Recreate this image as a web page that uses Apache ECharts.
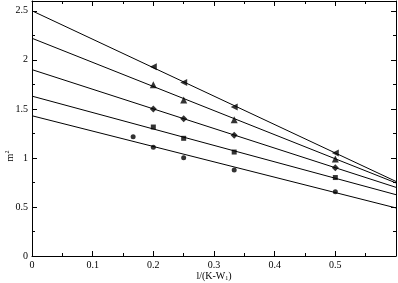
<!DOCTYPE html>
<html>
<head>
<meta charset="utf-8">
<script src="https://cdn.jsdelivr.net/npm/echarts@6/dist/echarts.min.js"></script>
<style>
  html, body { margin: 0; padding: 0; background: #fff; }
  #chart { width: 398px; height: 283px; }
</style>
</head>
<body>
<div id="chart"></div>
<script>
// measured points, x = 1/(K-W1)
const ptsLeftTri = [[0.2, 1.93], [0.25, 1.77], [0.3333, 1.52], [0.5, 1.05]];
const ptsUpTri = [[0.2, 1.745], [0.25, 1.59], [0.3333, 1.39], [0.5, 0.99]];
const ptsDiamond = [[0.2, 1.50], [0.25, 1.40], [0.3333, 1.23], [0.5, 0.90]];
const ptsSquare = [[0.2, 1.315], [0.25, 1.20], [0.3333, 1.06], [0.5, 0.80]];
const ptsCircle = [[0.1667, 1.217], [0.2, 1.11], [0.25, 1.003], [0.3333, 0.877], [0.5, 0.656]];

// fitted lines, value at x=0 and at x=0.6
const fitLeftTri = [[0, 2.50], [0.6, 0.76]];
const fitUpTri = [[0, 2.22], [0.6, 0.745]];
const fitDiamond = [[0, 1.90], [0.6, 0.70]];
const fitSquare = [[0, 1.63], [0.6, 0.625]];
const fitCircle = [[0, 1.43], [0.6, 0.49]];

const font = "Liberation Serif";

const chart = echarts.init(document.getElementById("chart"));

const lineSeries = (data) => ({
  type: "line",
  data: data,
  symbol: "none",
  silent: true,
  lineStyle: { color: "#000", width: 1 },
});

const pointSeries = (data, symbol, size, rotate) => ({
  type: "scatter",
  data: data,
  symbol: symbol,
  symbolSize: size,
  symbolRotate: rotate || 0,
  itemStyle: { color: "#000" },
});

const tickStyle = {
  axisLine: { show: true, onZero: false, lineStyle: { color: "#000", width: 1 } },
  axisTick: { show: true, inside: true, length: 5, lineStyle: { color: "#000" } },
  minorTick: { show: true, splitNumber: 2, length: 3, lineStyle: { color: "#000" } },
  splitLine: { show: false },
  minorSplitLine: { show: false },
};

const option = {
  animation: false,
  grid: { left: 32, right: 2, top: 1, bottom: 27, containLabel: false, outerBoundsMode: "none" },
  xAxis: [
    Object.assign({
      type: "value",
      min: 0,
      max: 0.6,
      interval: 0.1,
      position: "bottom",
      axisLabel: {
        color: "#000",
        fontFamily: font,
        fontSize: 10,
        margin: 4,
        formatter: (v) => (v > 0.55 ? "" : String(+v.toFixed(1))),
      },
    }, tickStyle),
    Object.assign({
      type: "value",
      min: 0,
      max: 0.6,
      interval: 0.1,
      position: "top",
      axisLabel: { show: false },
    }, tickStyle),
  ],
  yAxis: [
    Object.assign({
      type: "value",
      min: 0,
      max: 2.6,
      interval: 0.5,
      position: "left",
      axisLabel: {
        color: "#000",
        fontFamily: font,
        fontSize: 10,
        margin: 4,
        formatter: (v) => (v > 2.55 ? "" : String(v)),
      },
    }, tickStyle),
    Object.assign({
      type: "value",
      min: 0,
      max: 2.6,
      interval: 0.5,
      position: "right",
      axisLabel: { show: false },
    }, tickStyle),
  ],
  graphic: [
    {
      type: "text",
      x: 214,
      y: 276,
      style: {
        text: "l/(K-W{sub|1})",
        fill: "#000",
        font: "10px " + font,
        align: "center",
        verticalAlign: "middle",
        rich: { sub: { fontFamily: font, fontSize: 6, verticalAlign: "bottom", padding: [5, 0, 0, 0] } },
      },
    },
    {
      type: "text",
      x: 10,
      y: 156,
      rotation: Math.PI / 2,
      style: {
        text: "m{sup|2}",
        fill: "#000",
        font: "10px " + font,
        align: "center",
        verticalAlign: "middle",
        rich: { sup: { fontFamily: font, fontSize: 6, verticalAlign: "top", padding: [0, 0, 5, 0] } },
      },
    },
  ],
  series: [
    lineSeries(fitLeftTri),
    lineSeries(fitUpTri),
    lineSeries(fitDiamond),
    lineSeries(fitSquare),
    lineSeries(fitCircle),
    pointSeries(ptsLeftTri, "triangle", 7, 90),
    pointSeries(ptsUpTri, "triangle", 7, 0),
    pointSeries(ptsDiamond, "diamond", 7, 0),
    pointSeries(ptsSquare, "rect", 5, 0),
    pointSeries(ptsCircle, "circle", 5, 0),
  ],
};

chart.setOption(option);
</script>
</body>
</html>
